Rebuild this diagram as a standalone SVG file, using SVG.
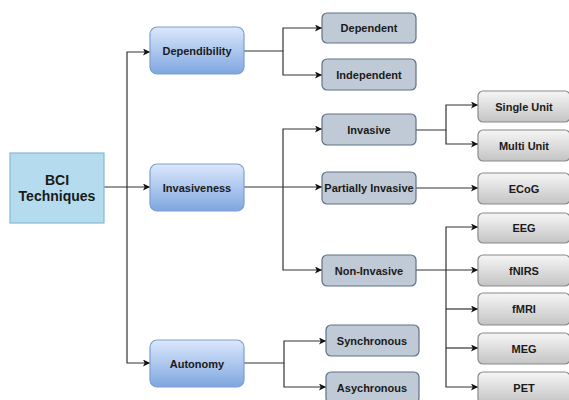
<svg xmlns="http://www.w3.org/2000/svg" width="569" height="400" viewBox="0 0 569 400">
<style>
text{font-family:"Liberation Sans",Arial,sans-serif;font-weight:bold;font-size:11px;fill:#1a1a1a;text-anchor:middle;dominant-baseline:central}
text.big{font-size:14px}
.root{fill:#b5dbee;stroke:#86b8d4;stroke-width:1.2}
.l1{fill:url(#gb);stroke:#7d9ed0;stroke-width:1.2}
.l2{fill:#bfcad6;stroke:#5f7286;stroke-width:1.2}
.l3{fill:url(#gg);stroke:#8a8a8a;stroke-width:1.2}
.c{fill:none;stroke:#333;stroke-width:1.2}
</style>
<defs>
<linearGradient id="gb" x1="0" y1="0" x2="0" y2="1"><stop offset="0" stop-color="#dbe8fc"/><stop offset="1" stop-color="#7fa6e0"/></linearGradient>
<linearGradient id="gg" x1="0" y1="0" x2="0" y2="1"><stop offset="0" stop-color="#f6f6f6"/><stop offset="1" stop-color="#c4c4c4"/></linearGradient>
<marker id="a" viewBox="0 0 10 10" refX="10" refY="5" markerWidth="7" markerHeight="7" markerUnits="userSpaceOnUse" orient="auto"><path d="M0,0 L10,5 L0,10 L2.5,5 z" fill="#111"/></marker>
</defs>
<g id="connectors">
<path class="c" d="M104,187 H150" marker-end="url(#a)"/>
<path class="c" d="M127,187 V52 H150" marker-end="url(#a)"/>
<path class="c" d="M127,187 V363 H150" marker-end="url(#a)"/>
<path class="c" d="M244,51 H283 V28 H322" marker-end="url(#a)"/>
<path class="c" d="M283,51 V75 H322" marker-end="url(#a)"/>
<path class="c" d="M244,187 H322" marker-end="url(#a)"/>
<path class="c" d="M283,187 V129 H322" marker-end="url(#a)"/>
<path class="c" d="M283,187 V270 H322" marker-end="url(#a)"/>
<path class="c" d="M244,363 H284 V341 H326" marker-end="url(#a)"/>
<path class="c" d="M284,363 V387 H326" marker-end="url(#a)"/>
<path class="c" d="M416,130 H446 V105 H478" marker-end="url(#a)"/>
<path class="c" d="M446,130 V144 H478" marker-end="url(#a)"/>
<path class="c" d="M416,188 H478" marker-end="url(#a)"/>
<path class="c" d="M416,270 H478" marker-end="url(#a)"/>
<path class="c" d="M446,270 V227 H478" marker-end="url(#a)"/>
<path class="c" d="M446,270 V387 H478" marker-end="url(#a)"/>
<path class="c" d="M446,309 H478" marker-end="url(#a)"/>
<path class="c" d="M446,348 H478" marker-end="url(#a)"/>
</g>
<g id="bci"><rect class="root" x="10" y="153" width="94" height="70"/><text class="big" x="57" y="180">BCI</text><text class="big" x="57" y="196">Techniques</text></g>
<g id="dependibility"><rect class="l1" x="150" y="27" width="94" height="47" rx="7"/><text x="197" y="51">Dependibility</text></g>
<g id="invasiveness"><rect class="l1" x="150" y="164" width="94" height="47" rx="7"/><text x="197" y="188">Invasiveness</text></g>
<g id="autonomy"><rect class="l1" x="150" y="340" width="94" height="47" rx="7"/><text x="197" y="364">Autonomy</text></g>
<g id="dependent"><rect class="l2" x="322" y="13" width="94" height="30" rx="5"/><text x="369" y="28">Dependent</text></g>
<g id="independent"><rect class="l2" x="322" y="59" width="94" height="31" rx="5"/><text x="369" y="75">Independent</text></g>
<g id="invasive"><rect class="l2" x="322" y="114" width="94" height="31" rx="5"/><text x="369" y="130">Invasive</text></g>
<g id="partially"><rect class="l2" x="322" y="172" width="94" height="32" rx="5"/><text x="369" y="188">Partially Invasive</text></g>
<g id="noninvasive"><rect class="l2" x="322" y="255" width="94" height="31" rx="5"/><text x="369" y="271">Non-Invasive</text></g>
<g id="synchronous"><rect class="l2" x="326" y="325" width="93" height="31" rx="5"/><text x="372" y="341">Synchronous</text></g>
<g id="asychronous"><rect class="l2" x="326" y="372" width="93" height="31" rx="5"/><text x="372" y="388">Asychronous</text></g>
<g id="single"><rect class="l3" x="478" y="91" width="92" height="31" rx="5"/><text x="524" y="107">Single Unit</text></g>
<g id="multi"><rect class="l3" x="478" y="130" width="92" height="31" rx="5"/><text x="524" y="146">Multi Unit</text></g>
<g id="ecog"><rect class="l3" x="478" y="173" width="92" height="31" rx="5"/><text x="524" y="189">ECoG</text></g>
<g id="eeg"><rect class="l3" x="478" y="213" width="92" height="30" rx="5"/><text x="524" y="228">EEG</text></g>
<g id="fnirs"><rect class="l3" x="478" y="255" width="92" height="31" rx="5"/><text x="524" y="271">fNIRS</text></g>
<g id="fmri"><rect class="l3" x="478" y="293" width="92" height="32" rx="5"/><text x="524" y="309">fMRI</text></g>
<g id="meg"><rect class="l3" x="478" y="333" width="92" height="31" rx="5"/><text x="524" y="349">MEG</text></g>
<g id="pet"><rect class="l3" x="478" y="372" width="92" height="31" rx="5"/><text x="524" y="388">PET</text></g>
</svg>
